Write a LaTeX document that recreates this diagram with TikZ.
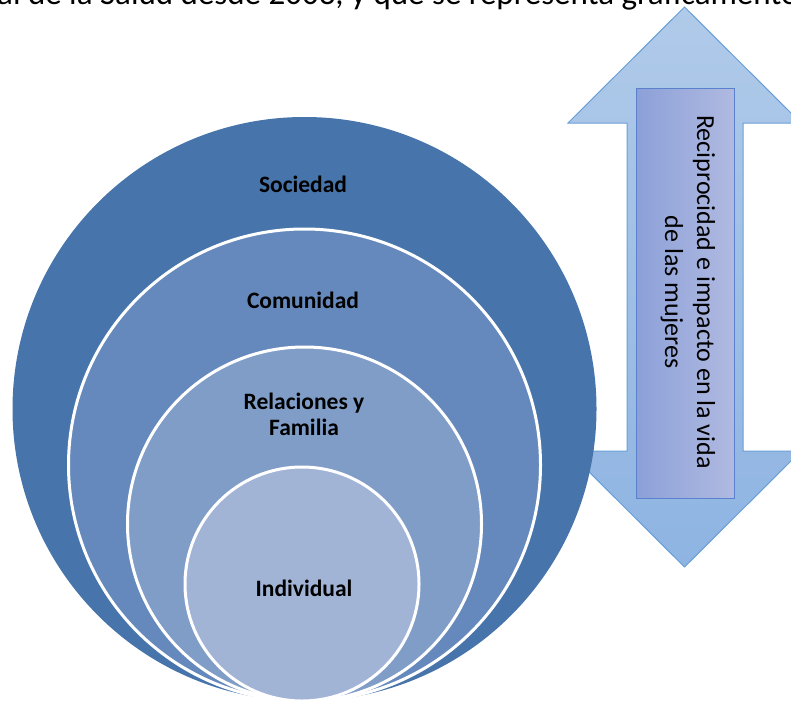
\documentclass[tikz,border=0pt]{standalone}
\usepackage{fontspec}
\setmainfont{Carlito}
\definecolor{socC}{HTML}{4775AB}
\definecolor{comC}{HTML}{6589BC}
\definecolor{relC}{HTML}{809DC8}
\definecolor{indC}{HTML}{A2B4D6}
\definecolor{arrTop}{HTML}{B0CAE9}
\definecolor{arrBot}{HTML}{8EB4E2}
\definecolor{arrLine}{HTML}{6A9FD8}
\definecolor{boxL}{HTML}{8CA0D8}
\definecolor{boxR}{HTML}{B0BAE1}
\definecolor{boxLine}{HTML}{5A82CC}
\tikzset{
  ring/.style={circle, inner sep=0pt, draw=white, line width=3pt},
  lvl/.style={anchor=base, font=\bfseries\fontsize{23.5}{28}\selectfont, text=black},
  vtext/.style={anchor=base, rotate=-90, font=\fontsize{26}{32}\selectfont, text=black},
}
\begin{document}
\begin{tikzpicture}[x=1pt,y=-1pt]
\useasboundingbox (0,0) rectangle (791,706);
% top text (cut by the page edge, as in the reference)
\node[anchor=base west, inner sep=0pt, font=\fontsize{33}{40}\selectfont] (toptext) at (-3,5) {al de la Salud desde 2003, y que se representa gráficamente};
% double arrow
\draw[arrLine, line width=1pt, top color=arrTop, bottom color=arrBot]
  (684.5,7) -- (801,123) -- (743,123) -- (743,451) -- (801,451) -- (684.5,567)
  -- (568,451) -- (627,451) -- (627,123) -- (568,123) -- cycle;
\node[draw=boxLine, line width=1pt, left color=boxL, right color=boxR, minimum width=98pt, minimum height=409pt, inner sep=0pt] (box) at (685,293.5) {};
\node[vtext] (rec1) at (697,292) {Reciprocidad e impacto en la vida};
\node[vtext] (rec2) at (665,292) {de las mujeres};
% circles
\node[circle, inner sep=0pt, fill=socC, minimum size=584pt] (soc) at (304.5,409) {};
\node[ring, fill=comC, minimum size=472pt] (com) at (304.5,465) {};
\node[ring, fill=relC, minimum size=354pt] (rel) at (304.5,524) {};
\node[ring, fill=indC, minimum size=234pt] (ind) at (302,584) {};
% labels
\node[lvl] (lsoc) at (303,192) {Sociedad};
\node[lvl] (lcom) at (303,308) {Comunidad};
\node[lvl] (lrel1) at (304,409) {Relaciones y};
\node[lvl] (lrel2) at (304,435) {Familia};
\node[lvl] (lind) at (304,596) {Individual};
\end{tikzpicture}
\end{document}
